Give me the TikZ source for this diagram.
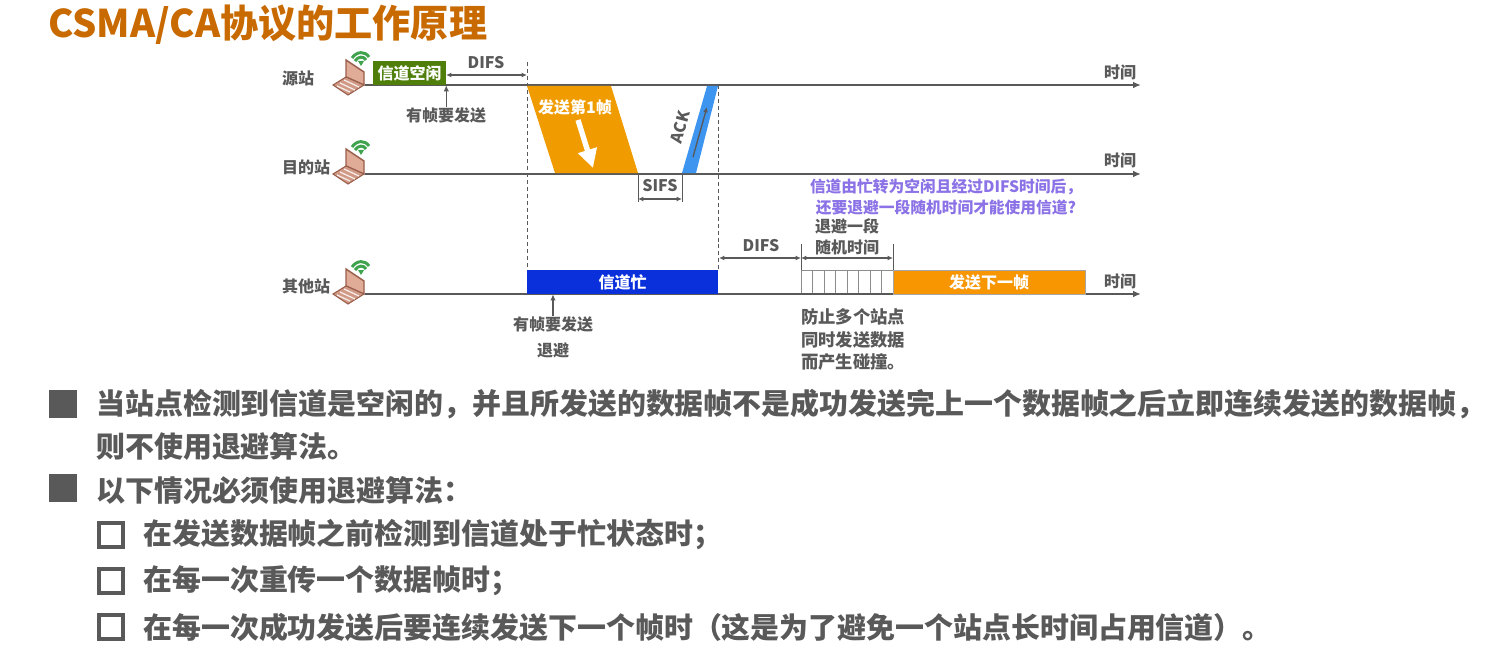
\documentclass[tikz,border=0pt]{standalone}
\usepackage{fontspec}
\setmainfont{Noto Sans CJK SC}
\usetikzlibrary{arrows.meta,calc}
\definecolor{txtg}{HTML}{595959}
\definecolor{ttl}{HTML}{C86A00}
\definecolor{idleg}{HTML}{4F7F0A}
\definecolor{frmo}{HTML}{F09C00}
\definecolor{nxto}{HTML}{F79600}
\definecolor{ackb}{HTML}{3E95F0}
\definecolor{busyb}{HTML}{0A30DC}
\definecolor{askp}{HTML}{8B72E6}
\definecolor{lapr}{HTML}{E0AC98}
\definecolor{lapk}{HTML}{D09A86}
\definecolor{lapd}{HTML}{9A5F4C}
\definecolor{wifg}{HTML}{3FA34D}
\tikzset{
  tline/.style={-{Latex[length=6pt,width=5pt]},draw=txtg,line width=1.8pt},
  dsh/.style={draw=txtg,line width=.6pt,dashed,dash pattern=on 3pt off 2.2pt},
  tick/.style={draw=txtg,line width=.7pt},
  dim/.style={{Latex[length=4pt,width=3.6pt]}-{Latex[length=4pt,width=3.6pt]},draw=txtg,line width=1pt},
  upar/.style={-{Latex[length=4.5pt,width=4pt]},draw=txtg,line width=1pt},
  lb/.style={font=\fontsize{12}{14}\selectfont\bfseries,text=txtg,inner sep=0pt},
  lbw/.style={font=\fontsize{13}{15}\selectfont\bfseries,text=txtg,inner sep=0pt,anchor=west},
  wb/.style={font=\fontsize{12}{14}\selectfont\bfseries,text=white,inner sep=0pt},
  bx/.style={rectangle,inner sep=0pt,minimum height=18pt},
  ask/.style={font=\fontsize{11.8}{14}\selectfont\bfseries,text=askp,inner sep=0pt},
  body/.style={font=\fontsize{21.7}{24}\selectfont\bfseries,text=txtg,inner sep=0pt,anchor=west},
  bulf/.style={rectangle,fill=txtg,minimum size=21pt,inner sep=0pt},
  bulo/.style={rectangle,draw=txtg,line width=3pt,minimum size=18pt,inner sep=0pt},
  % laptop drawn from the right end of its base, on the time line
  laptop/.pic={
    \filldraw[draw=lapd,fill=lapr,line width=1.1pt] (-19,-25)--(-1,-13)--(-1,0)--(-19,-8)--cycle;
    \filldraw[draw=lapd,fill=lapk,line width=.8pt] (-19,-8)--(-1,0)--(-17,10)--(-32,0)--cycle;
    \draw[white!85!lapk,line width=.9pt] (-25,-2)--(-10,5) (-21,-5)--(-6,2) (-28,1)--(-15,7);
    \draw[wifg,line width=2.2pt] (-13,-27)..controls (-8,-34) and (0,-34) ..(4,-28);
    \draw[wifg,line width=2.2pt] (-10,-24)..controls (-7,-29) and (-1,-29) ..(1,-25);
    \fill[wifg] (-7,-24)--(-1,-24)--(-4,-19)--cycle;
  },
}
\begin{document}
\begin{tikzpicture}[x=0.75pt,y=-0.75pt]
\useasboundingbox[fill=white] (0,0) rectangle (1487,649);
\node[font=\fontsize{28.6}{30}\selectfont\bfseries,text=ttl,inner sep=0pt,anchor=west] (title) at (48,25) {CSMA/CA协议的工作原理};
% the three time lines
\coordinate (s0) at (365,85); \coordinate (s1) at (1141,85);
\coordinate (d0) at (365,174); \coordinate (d1) at (1141,174);
\coordinate (o0) at (365,294); \coordinate (o1) at (1141,294);
\draw[tline] (s0)--(s1);
\draw[tline] (d0)--(d1);
\draw[tline] (o0)--(o1);
\pic at (s0) {laptop};
\pic at (d0) {laptop};
\pic at (o0) {laptop};
\node[lb] (srclb) at (298,78) {源站};
\node[lb] (dstlb) at (306,167) {目的站};
\node[lb] (othlb) at (306,286) {其他站};
\node[lb] (tm1) at (1120,72) {时间};
\node[lb] (tm2) at (1120,160) {时间};
\node[lb] (tm3) at (1120,281) {时间};
% dashed guides
\coordinate (g1a) at (527,62); \coordinate (g1b) at (527,270);
\coordinate (g2a) at (718,85); \coordinate (g2b) at (718,270);
\draw[dsh] (g1a)--(g1b);
\draw[dsh] (g2a)--(g2b);
% source station
\node[bx,wb,fill=idleg,minimum width=54.75pt] (idle) at (409.5,73) {信道空闲};
\coordinate (difa) at (446,75); \coordinate (difb) at (527,75);
\draw[dim] (difa)--(difb);
\node[lb] (dif1) at (486,63) {DIFS};
\node[lb] (want1) at (446,115) {有帧要发送};
\draw[upar] (want1.north -| idle.south east)--(idle.south east);
% first frame and its ack
\fill[frmo] (527,86)--(611,86)--(638,173)--(555,173)--cycle;
\node[wb] (frm1) at (575,107) {发送第1帧};
\coordinate (fa0) at (578,120); \coordinate (fa1) at (593,168);
\draw[-{Triangle[length=14pt,width=14pt]},draw=white,line width=4pt] (fa0)--(fa1);
\fill[ackb] (707,86)--(718,86)--(696,173)--(682,173)--cycle;
\coordinate (aa0) at (693,157); \coordinate (aa1) at (707,107);
\draw[-{Latex[length=4pt,width=3.6pt]},draw=txtg,line width=1pt] (aa0)--(aa1);
\node[lb,rotate=75] (ack) at (680,127) {ACK};
\coordinate (sfa) at (638,174); \coordinate (sfb) at (682,174);
\coordinate (sfa1) at (638,202); \coordinate (sfb1) at (682,202);
\draw[tick] (sfa)--(sfa1) (sfb)--(sfb1);
\draw[dim] ($(sfa1)+(0,-3)$)--($(sfb1)+(0,-3)$);
\node[lb] (sifs) at (660,186) {SIFS};
% other station
\node[bx,wb,fill=busyb,minimum width=143.25pt] (busy) at (622.5,282) {信道忙};
\node[lb] (want2) at (553,324) {有帧要发送};
\draw[upar] (want2.north)--(want2.north |- busy.south);
\node[lb] (bko) at (553,350) {退避};
\node[ask] (ask1) at (946,187) {信道由忙转为空闲且经过DIFS时间后，};
\node[ask] (ask2) at (946,207) {还要退避一段随机时间才能使用信道?};
\node[lb] (rnd1) at (847,226) {退避一段};
\node[lb] (rnd2) at (847,247) {随机时间};
\node[lb] (dif2) at (761,246) {DIFS};
\coordinate (k0) at (801,244); \coordinate (k1) at (893,244);
\coordinate (k0b) at (801,270); \coordinate (k1b) at (893,270);
\draw[tick] (k0)--(k0b) (k1)--(k1b);
\coordinate (dm0) at (719,258); \coordinate (dm1) at (801,258); \coordinate (dm2) at (893,258);
\draw[dim] (dm0)--(dm1);
\draw[dim] (dm1)--(dm2);
% back-off slots
\foreach \i in {0,...,8}
  \draw[draw=black!45,line width=.7pt] (801+\i*11.5,270)--(801+\i*11.5,293);
\draw[draw=black!45,line width=.7pt] (801,270)--(893,270);
\node[bx,wb,fill=nxto,draw=black!35,line width=.4pt,minimum width=144pt] (next) at (989,282) {发送下一帧};
\node[lbw] (pv1) at (801,317) {防止多个站点};
\node[lbw] (pv2) at (801,340) {同时发送数据};
\node[lbw] (pv3) at (801,362) {而产生碰撞。};
% text below
\node[bulf] (b1) at (63,403.5) {};
\node[bulf] (b2) at (63,488) {};
\node[bulo] (c1) at (111,535) {};
\node[bulo] (c2) at (111,581) {};
\node[bulo] (c3) at (111,627) {};
\node[body] (t1) at (96,404) {当站点检测到信道是空闲的，并且所发送的数据帧不是成功发送完上一个数据帧之后立即连续发送的数据帧，};
\node[body] (t2) at (96,446) {则不使用退避算法。};
\node[body] (t3) at (96,490) {以下情况必须使用退避算法：};
\node[body] (t4) at (143,535) {在发送数据帧之前检测到信道处于忙状态时；};
\node[body] (t5) at (143,581) {在每一次重传一个数据帧时；};
\node[body] (t6) at (143,627) {在每一次成功发送后要连续发送下一个帧时（这是为了避免一个站点长时间占用信道）。};
\end{tikzpicture}
\end{document}
